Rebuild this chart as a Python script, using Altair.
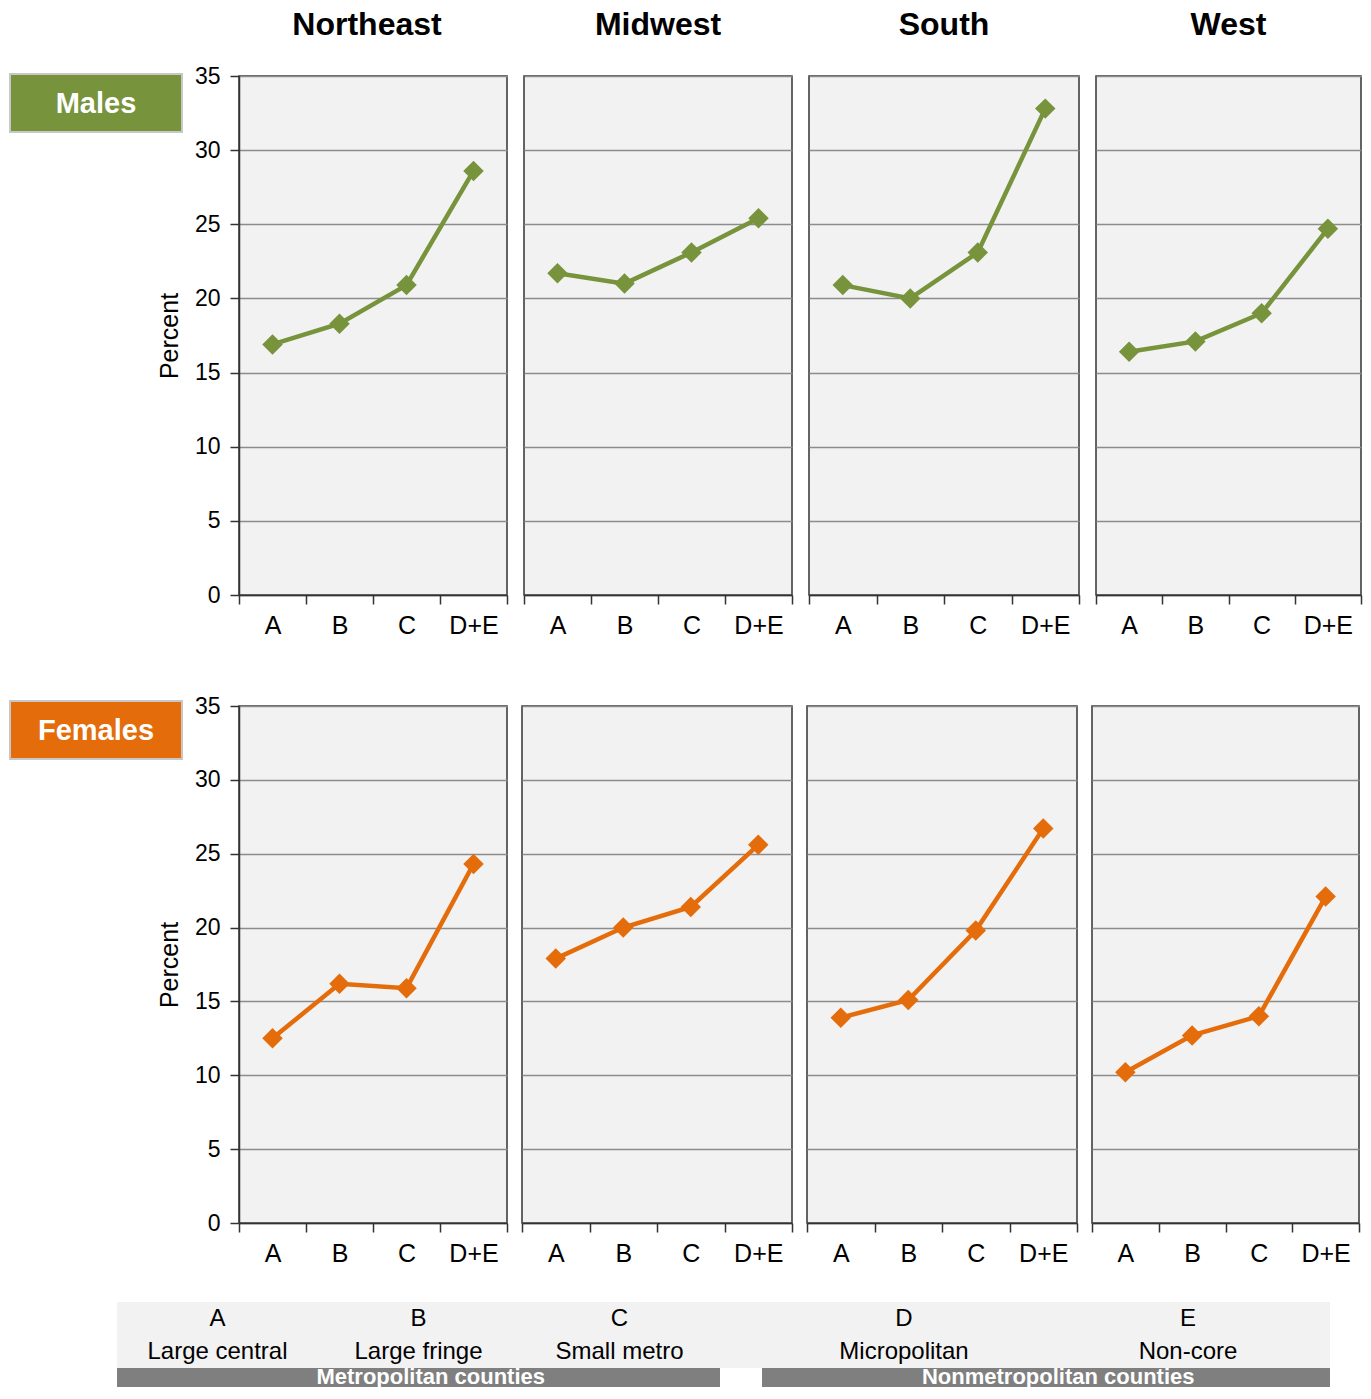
import altair as alt
import pandas as pd

regions = ["Northeast", "Midwest", "South", "West"]
categories = ["A", "B", "C", "D+E"]

males_northeast = [16.9, 18.3, 20.9, 28.6]
males_midwest = [21.7, 21.0, 23.1, 25.4]
males_south = [20.9, 20.0, 23.1, 32.8]
males_west = [16.4, 17.1, 19.0, 24.7]

females_northeast = [12.5, 16.2, 15.9, 24.3]
females_midwest = [17.9, 20.0, 21.4, 25.6]
females_south = [13.9, 15.1, 19.8, 26.7]
females_west = [10.2, 12.7, 14.0, 22.1]

metro_codes = ["A", "B", "C"]
metro_names = ["Large central", "Large fringe", "Small metro"]
nonmetro_codes = ["D", "E"]
nonmetro_names = ["Micropolitan", "Non-core"]
legend_groups = ["Metropolitan counties", "Nonmetropolitan counties"]

GREEN = "#77933C"
ORANGE = "#E46C0A"
FONT = "Liberation Sans"


def panel(values, color, first, width, height, title=None, title_dx=0, label=None, box=None):
    df = pd.DataFrame({"cat": categories, "pct": values})
    x = alt.X(
        "cat:N",
        sort=categories,
        bandPosition=0.5,
        scale=alt.Scale(type="band", domain=categories, paddingInner=0, paddingOuter=0),
        axis=alt.Axis(title=None, tickBand="extent", labelAngle=0, labelFontSize=25,
                      labelPadding=9, tickSize=9),
    )
    if first:
        yaxis = alt.Axis(values=list(range(0, 36, 5)), title="Percent", titleFontSize=25,
                         titleFontWeight="normal", titlePadding=12, labelFontSize=23,
                         labelPadding=10, tickSize=9, grid=True)
    else:
        yaxis = alt.Axis(values=list(range(0, 36, 5)), title=None, labels=False, ticks=False,
                         domain=False, grid=True)
    y = alt.Y("pct:Q", scale=alt.Scale(domain=[0, 35], nice=False), axis=yaxis)
    base = alt.Chart(df)
    line = base.mark_line(color=color, strokeWidth=4.5).encode(x=x, y=y)
    pts = base.mark_point(shape="diamond", filled=True, size=420, opacity=1, color=color).encode(x=x, y=y)
    layers = [line, pts]
    if title is not None:
        tdf = alt.Data(values=[{"region": title}])
        layers.append(alt.Chart(tdf).mark_text(fontSize=32, fontWeight="bold", color="black",
                                               align="center", baseline="middle", font=FONT).encode(
            text="region:N", x=alt.value(width / 2 + title_dx), y=alt.value(-51)))
    if label is not None:
        ldf = alt.Data(values=[{"label": label}])
        x0, x1, y0, y1 = box
        rect = alt.Chart(ldf).mark_rect(fill=color, stroke="#C8C8C8", strokeWidth=2).encode(
            x=alt.value(x0), x2=alt.value(x1), y=alt.value(y0), y2=alt.value(y1))
        txt = alt.Chart(ldf).mark_text(color="white", fontSize=29, fontWeight="bold",
                                       align="center", baseline="middle", font=FONT).encode(
            text="label:N", x=alt.value((x0 + x1) / 2), y=alt.value((y0 + y1) / 2 + 1))
        layers += [rect, txt]
    return alt.layer(*layers).properties(width=width, height=height)


top_vals = [males_northeast, males_midwest, males_south, males_west]
bot_vals = [females_northeast, females_midwest, females_south, females_west]
top_w = [268, 268, 270, 265]
bot_w = [268, 270, 270, 267]
title_dx = [-6, 0, 0, 0]

row1 = alt.hconcat(*[
    panel(v, GREEN, i == 0, top_w[i], 519, title=regions[i], title_dx=title_dx[i],
          label="Males" if i == 0 else None, box=(-229, -57, -2, 56))
    for i, v in enumerate(top_vals)
], spacing=13)

row2 = alt.hconcat(*[
    panel(v, ORANGE, i == 0, bot_w[i], 517,
          label="Females" if i == 0 else None, box=(-229, -57, -5, 53))
    for i, v in enumerate(bot_vals)
], spacing=11)

# legend table (coordinates relative to the first plot's left edge)
mdf = pd.DataFrame({"code": metro_codes, "name": metro_names})
ndf = pd.DataFrame({"code": nonmetro_codes, "name": nonmetro_names})
gdf = pd.DataFrame({"group": legend_groups})
mx = alt.X("code:N", sort=metro_codes, bandPosition=0.5,
           scale=alt.Scale(type="band", domain=metro_codes, range=[-122, 481], paddingInner=0, paddingOuter=0),
           axis=None)
nx = alt.X("code:N", sort=nonmetro_codes, bandPosition=0.5,
           scale=alt.Scale(type="band", domain=nonmetro_codes, range=[523, 1091], paddingInner=0, paddingOuter=0),
           axis=None)
gx = alt.X("group:N", sort=legend_groups, bandPosition=0.5,
           scale=alt.Scale(type="band", domain=legend_groups, range=[-122, 1133], paddingInner=0, paddingOuter=0),
           axis=None)
one = gdf.head(1)
bg = alt.Chart(one).mark_rect(color="#F2F2F2").encode(
    x=alt.value(-122), x2=alt.value(1091), y=alt.value(0), y2=alt.value(66))
bar1 = alt.Chart(one).mark_rect(color="#7F7F7F").encode(
    x=alt.value(-122), x2=alt.value(481), y=alt.value(66), y2=alt.value(85))
bar2 = alt.Chart(one).mark_rect(color="#7F7F7F").encode(
    x=alt.value(523), x2=alt.value(1091), y=alt.value(66), y2=alt.value(85))
gtxt = alt.Chart(gdf).mark_text(color="white", fontSize=22, fontWeight="bold", baseline="middle",
                                font=FONT).encode(x=gx, y=alt.value(75), text="group:N")
tstyle = dict(color="black", fontSize=24, baseline="middle", font=FONT)
mc = alt.Chart(mdf).mark_text(**tstyle).encode(x=mx, y=alt.value(17), text="code:N")
mn = alt.Chart(mdf).mark_text(**tstyle).encode(x=mx, y=alt.value(50), text="name:N")
nc = alt.Chart(ndf).mark_text(**tstyle).encode(x=nx, y=alt.value(17), text="code:N")
nn = alt.Chart(ndf).mark_text(**tstyle).encode(x=nx, y=alt.value(50), text="name:N")
legend = alt.layer(bg, bar1, bar2, gtxt, mc, mn, nc, nn).resolve_scale(x="independent").properties(
    width=1090, height=85, view=alt.ViewBackground(stroke=None, fill=None))

chart = alt.vconcat(
    alt.vconcat(row1, row2, spacing=55),
    legend,
    spacing=35,
).configure(font=FONT, padding=0).configure_view(
    fill="#F2F2F2", stroke="#333333", strokeWidth=1.5
).configure_axis(
    labelFont=FONT, titleFont=FONT, labelColor="black", titleColor="black",
    domainColor="#333333", tickColor="#333333", domainWidth=1.5, tickWidth=1.5,
    gridColor="#8C8C8C", gridWidth=1.3,
)

chart.save("out.html", embed_options={"renderer": "svg", "actions": False})
